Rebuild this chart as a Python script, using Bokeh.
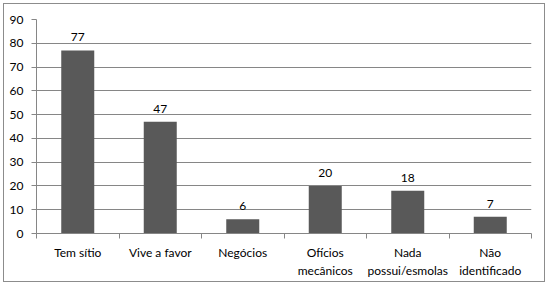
from bokeh.plotting import figure
from bokeh.models import Range1d, FixedTicker, ColumnDataSource, LabelSet
from bokeh.core.properties import value
from bokeh.embed import file_html
from bokeh.resources import INLINE

categories = ["Tem sítio", "Vive a favor", "Negócios", "Ofícios\nmecânicos",
              "Nada\npossui/esmolas", "Não\nidentificado"]
values = [77, 47, 6, 20, 18, 7]
y_ticks = [0, 10, 20, 30, 40, 50, 60, 70, 80, 90]

n = len(categories)
xs = [i + 0.5 for i in range(n)]
src = ColumnDataSource(dict(x=xs, top=values, lab=[str(v) for v in values]))

FONT = "Lato"
GRAY = "#868686"
TXT = "#000000"
FS = "12px"

p = figure(width=548, height=285, output_backend="svg", toolbar_location=None,
           x_range=Range1d(0, n), y_range=Range1d(0, 90),
           min_border_left=36, min_border_right=17, min_border_top=19, min_border_bottom=52)
p.styles = {
    "background-color": "white",
    "box-shadow": "inset 0 0 0 3px white, inset 0 0 0 4px #8c8c8c",
}
p.outline_line_color = None
p.background_fill_color = None
p.border_fill_color = None

p.vbar(x="x", top="top", width=0.4, source=src, fill_color="#595959", line_color=None)

labels = LabelSet(x="x", y="top", text="lab", source=src, text_align="center",
                  text_baseline="alphabetic", y_offset=9, text_font=value(FONT),
                  text_font_size=value(FS), text_color=value(TXT))
p.add_layout(labels)

p.xgrid.grid_line_color = None
p.ygrid.grid_line_color = GRAY
p.ygrid.ticker = FixedTicker(ticks=y_ticks)

xa = p.xaxis[0]
xa.ticker = FixedTicker(ticks=xs, minor_ticks=list(range(n + 1)))
xa.major_label_overrides = {x: c for x, c in zip(xs, categories)}
xa.major_tick_out = 0
xa.major_tick_in = 0
xa.minor_tick_out = 5
xa.minor_tick_in = 0
xa.minor_tick_line_color = GRAY
xa.axis_line_color = GRAY
xa.major_label_standoff = 6
xa.major_label_text_font = FONT
xa.major_label_text_font_size = FS
xa.major_label_text_color = TXT

ya = p.yaxis[0]
ya.ticker = FixedTicker(ticks=y_ticks)
ya.major_tick_out = 5
ya.major_tick_in = 0
ya.major_tick_line_color = GRAY
ya.minor_tick_line_color = None
ya.axis_line_color = GRAY
ya.major_label_standoff = 8
ya.major_label_text_font = FONT
ya.major_label_text_font_size = FS
ya.major_label_text_color = TXT

open("out.html", "w").write(file_html(p, INLINE))
